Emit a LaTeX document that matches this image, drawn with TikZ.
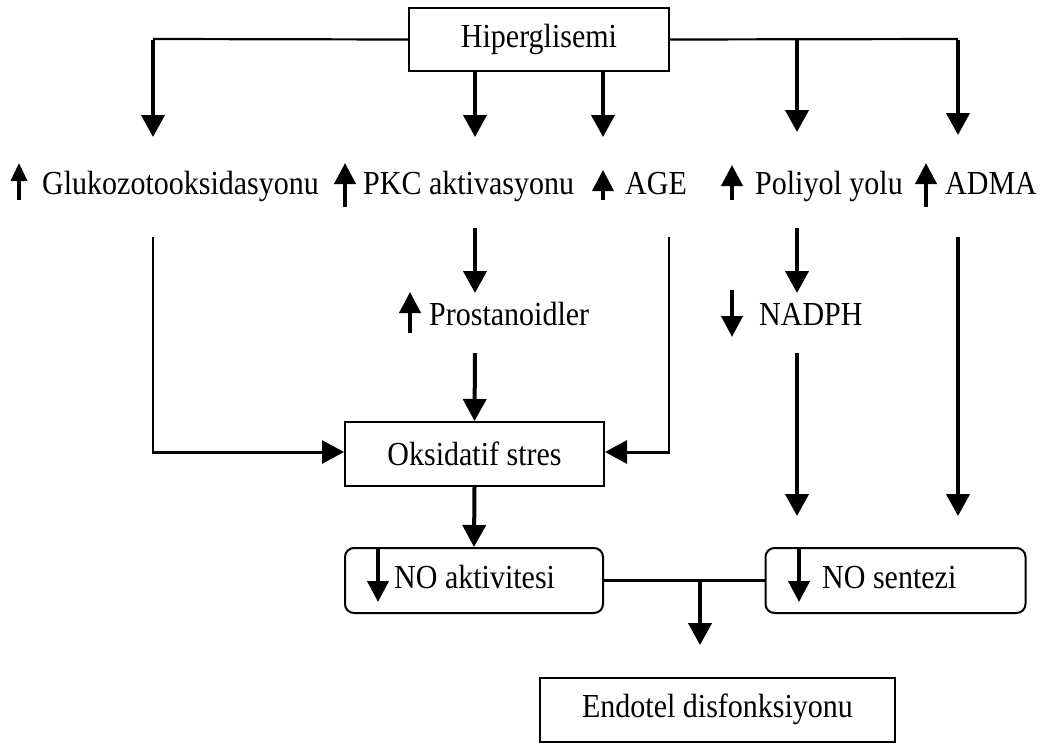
\documentclass[tikz,border=0pt]{standalone}
\usepackage{fontspec}
\usepackage{graphicx}
\setmainfont{Liberation Serif}
\usetikzlibrary{arrows.meta}
\newcommand{\stx}[1]{\scalebox{1}[1.12]{#1}}
\begin{document}
\begin{tikzpicture}[x=1pt,y=-1pt,
  txt/.style={font=\fontsize{30}{34}\selectfont},
  lbl/.style={txt, inner sep=0pt, anchor=base west},
  box/.style={txt, draw, line width=2pt, minimum height=64pt, inner sep=0pt},
  rbox/.style={draw, line width=2pt, rounded corners=9pt, minimum height=65pt, inner sep=0pt},
  thinl/.style={line width=2.2pt},
  arr/.style={line width=4pt, -{Triangle[width=23pt,length=22pt]}},
  ind/.style={line width=4pt, -{Triangle[width=21pt,length=21pt]}},
  smallind/.style={line width=3.5pt, -{Triangle[width=16pt,length=18pt]}},
]
\useasboundingbox (0,0) rectangle (1040,744);

% boxes and labels
\node[box, minimum width=260pt, minimum height=63pt] (hip) at (539,39.5) {\stx{Hiperglisemi}};
\node[lbl] (glu) at (42,194) {\stx{Glukozotooksidasyonu}};
\node[lbl] (pkc) at (363,194) {\stx{PKC aktivasyonu}};
\node[lbl] (age) at (625,194) {\stx{AGE}};
\node[lbl] (pol) at (755,194) {\stx{Poliyol yolu}};
\node[lbl] (adma) at (945,194) {\stx{ADMA}};
\node[lbl] (pros) at (429,325) {\stx{Prostanoidler}};
\node[lbl] (nadph) at (759,325) {\stx{NADPH}};
\node[box, minimum width=259pt] (ox) at (474.5,454) {\stx{Oksidatif stres}};
\node[rbox, minimum width=258pt] (noa) at (474,580.5) {};
\node[lbl] (noat) at (394,588) {\stx{NO aktivitesi}};
\node[rbox, minimum width=260pt] (nos) at (895.5,580.5) {};
\node[lbl] (nost) at (822,588) {\stx{NO sentezi}};
\node[box, minimum width=355pt] (endo) at (717.5,709.5) {\stx{Endotel disfonksiyonu}};

% coordinates
\coordinate (gluTop) at (153,39);
\coordinate (gluTip) at (153,137);
\coordinate (pkcTip) at (475,137);
\coordinate (ageTip) at (603,137);
\coordinate (polTop) at (797,39);
\coordinate (polTip) at (797,132);
\coordinate (admaTop) at (958,39);
\coordinate (admaTip) at (958,135);
\coordinate (gluBot) at (153,237);
\coordinate (gluBend) at (153,452);
\coordinate (ageBot) at (669,237);
\coordinate (ageBend) at (669,452);
\coordinate (pkcBot) at (475,228);
\coordinate (prosTip) at (475,293);
\coordinate (prosBot) at (475,353);
\coordinate (polBot) at (797,228);
\coordinate (nadTip) at (797,293);
\coordinate (nadBot) at (797,353);
\coordinate (nadEnd) at (797,516);
\coordinate (admaBot) at (958,237);
\coordinate (admaEnd) at (958,516);
\coordinate (mid) at (700,580.5);
\coordinate (midTip) at (700,645);

% top connectors
\draw[thinl] (hip.west) -- (gluTop);
\draw[arr] ([yshift=-1pt]gluTop) -- (gluTip);
\draw[arr] (hip.south -| pkcTip) -- (pkcTip);
\draw[arr] (hip.south -| ageTip) -- (ageTip);
\draw[thinl] (hip.east) -- (admaTop);
\draw[arr] ([yshift=-1pt]polTop) -- (polTip);
\draw[arr] ([yshift=-1pt]admaTop) -- (admaTip);

% indicator arrows
\draw[smallind] (19,200) -- (19,163);
\draw[ind] (345,207) -- (345,163);
\draw[ind] (603,200) -- (603,170);
\draw[ind] (732,200) -- (732,165);
\draw[ind] (926,207) -- (926,163);
\draw[ind] (410,333) -- (410,292);
\draw[ind] (732,290) -- (732,337);
\draw[ind] (378,548) -- (378,602);
\draw[ind] (799,548) -- (799,602);

% lower connectors
\draw[thinl] (gluBot) -- (gluBend);
\draw[arr, line width=3pt] ([xshift=-1pt]gluBend) -- (gluBend -| ox.west);
\draw[thinl] (ageBot) -- (ageBend);
\draw[arr, line width=3pt] ([xshift=1pt]ageBend) -- (ageBend -| ox.east);
\draw[arr] (pkcBot) -- (prosTip);
\draw[arr] (prosBot) -- (ox.north);
\draw[arr] (ox.south) -- (noa.north);
\draw[arr] (polBot) -- (nadTip);
\draw[arr] (nadBot) -- (nadEnd);
\draw[arr] (admaBot) -- (admaEnd);
\draw[thinl] (noa.east) -- (nos.west);
\draw[arr] (mid) -- (midTip);
\end{tikzpicture}
\end{document}
